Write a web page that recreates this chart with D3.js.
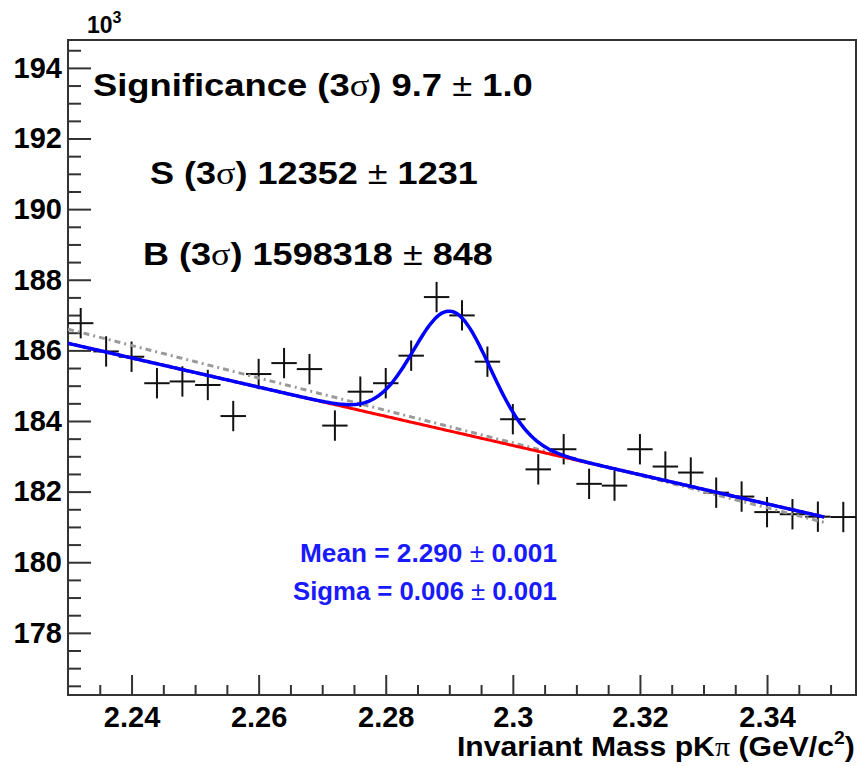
<!DOCTYPE html>
<html>
<head>
<meta charset="utf-8">
<script src="https://cdn.jsdelivr.net/npm/d3@7"></script>
<style>
  html, body { margin: 0; padding: 0; background: #fff; }
  svg { display: block; }
  text { font-family: "Liberation Sans", Arial, Helvetica, sans-serif; }
</style>
</head>
<body>
<svg id="chart" width="858" height="766"></svg>
<script>
// ---------------- data (counts in units of 10^3) ----------------
const binCenters = [2.232, 2.236, 2.240, 2.244, 2.248, 2.252, 2.256, 2.260, 2.264, 2.268,
                    2.272, 2.276, 2.280, 2.284, 2.288, 2.292, 2.296, 2.300, 2.304, 2.308,
                    2.312, 2.316, 2.320, 2.324, 2.328, 2.332, 2.336, 2.340, 2.344, 2.348, 2.352];
const counts = [186.77, 185.97, 185.82, 185.07, 185.12, 185.02, 184.14, 185.33, 185.64, 185.47,
                183.87, 184.83, 185.07, 185.85, 187.51, 186.99, 185.68, 184.05, 182.63, 183.20,
                182.22, 182.17, 183.20, 182.71, 182.54, 181.97, 181.86, 181.42, 181.36, 181.29, 181.28];
const countErrors = [0.43, 0.43, 0.43, 0.43, 0.43, 0.43, 0.43, 0.43, 0.43, 0.43,
                     0.43, 0.43, 0.43, 0.43, 0.43, 0.43, 0.43, 0.43, 0.43, 0.43,
                     0.43, 0.43, 0.43, 0.43, 0.43, 0.43, 0.43, 0.43, 0.43, 0.43, 0.43];
const binHalfWidth = 0.002;

// fit results
const fitRange = [2.230, 2.349];
const bkgPar = [186.20, -41.34];          // p0 + p1*(m - 2.23)  (red, background)
const gausPar = [3.40, 2.2904, 0.0060];   // amplitude, mean, sigma (blue = bkg + gaus)
const sidebandPar = [186.60, -45.98];     // grey dash-dot: p0 + p1*(m - 2.23)
const refMass = 2.23;

// axes
const xDomain = [2.230, 2.354];
const yDomain = [176.24, 194.79];
const xMajorTicks = [2.24, 2.26, 2.28, 2.30, 2.32, 2.34];
const xMinorTicks = [2.235, 2.245, 2.25, 2.255, 2.265, 2.27, 2.275, 2.285, 2.29, 2.295,
                     2.305, 2.31, 2.315, 2.325, 2.33, 2.335, 2.345, 2.35];
const yMajorTicks = [178, 180, 182, 184, 186, 188, 190, 192, 194];
const yMinorTicks = [176.5, 177, 177.5, 178.5, 179, 179.5, 180.5, 181, 181.5, 182.5, 183, 183.5,
                     184.5, 185, 185.5, 186.5, 187, 187.5, 188.5, 189, 189.5, 190.5, 191, 191.5,
                     192.5, 193, 193.5, 194.5];

const xTitle = ["Invariant Mass pK", "π", " (GeV/c", "2", ")"];
const statLines = [
  { label: "Significance", val: "9.7", err: "1.0" },
  { label: "S", val: "12352", err: "1231" },
  { label: "B", val: "1598318", err: "848" }
];
const fitLines = [
  { label: "Mean", val: "2.290", err: "0.001" },
  { label: "Sigma", val: "0.006", err: "0.001" }
];

// ---------------- layout ----------------
const svg = d3.select("#chart");
const L = 68, R = 856, T = 40, B = 695;
const x = d3.scaleLinear().domain(xDomain).range([L, R]);
const y = d3.scaleLinear().domain(yDomain).range([B, T]);

const FRAME = "#333";
const tickFont = 29;

// stretch a text horizontally so it spans [x0, x0+w]
function fitWidth(t, x0, w) {
  const cur = t.node().getComputedTextLength();
  const s = w / cur;
  t.attr("x", x0).attr("text-anchor", "start")
   .attr("transform", `translate(${x0},0) scale(${s},1) translate(${-x0},0)`);
}

// axes
const gx = svg.append("g").attr("transform", `translate(0,${B})`);
gx.call(d3.axisBottom(x).tickValues(xMajorTicks).tickSize(-20).tickPadding(11)
        .tickFormat(d => String(+d.toFixed(2))));
const gxm = svg.append("g").attr("transform", `translate(0,${B})`);
gxm.call(d3.axisBottom(x).tickValues(xMinorTicks).tickSize(-10).tickFormat(""));

const gy = svg.append("g").attr("transform", `translate(${L},0)`);
gy.call(d3.axisLeft(y).tickValues(yMajorTicks).tickSize(-23).tickPadding(6).tickFormat(d3.format("d")));
const gym = svg.append("g").attr("transform", `translate(${L},0)`);
gym.call(d3.axisLeft(y).tickValues(yMinorTicks).tickSize(-13).tickFormat(""));

[gx, gxm, gy, gym].forEach(g => {
  g.select(".domain").remove();
  g.selectAll(".tick line").attr("stroke", FRAME).attr("stroke-width", 2);
  g.selectAll(".tick text").attr("fill", "#000").attr("font-size", tickFont)
    .attr("font-weight", "bold")
    .style("font-family", "'Liberation Sans', Arial, sans-serif");
});

// frame
svg.append("rect").attr("x", L).attr("y", T).attr("width", R - L).attr("height", B - T)
  .attr("fill", "none").attr("stroke", FRAME).attr("stroke-width", 2);

// 10^3 label
const expo = svg.append("text").attr("x", 87).attr("y", 33).attr("font-size", 23).attr("font-weight", "bold");
expo.append("tspan").text("10");
expo.append("tspan").attr("font-size", 16).attr("dy", -10).text("3");

// x title
const xt = svg.append("text").attr("x", 457).attr("y", 756)
  .attr("font-size", 28).attr("font-weight", "bold");
xt.append("tspan").text(xTitle[0]);
xt.append("tspan").attr("font-family", "'Liberation Serif', serif").attr("font-weight", "normal").text(xTitle[1]);
xt.append("tspan").text(xTitle[2]);
xt.append("tspan").attr("font-size", 18).attr("dy", -12).text(xTitle[3]);
xt.append("tspan").attr("dy", 12).text(xTitle[4]);
fitWidth(xt, 457, 398);

// ---------------- data points ----------------
const pts = svg.append("g").attr("stroke", "#111").attr("stroke-width", 2);
binCenters.forEach((m, i) => {
  pts.append("line").attr("x1", x(m - binHalfWidth)).attr("x2", x(m + binHalfWidth))
    .attr("y1", y(counts[i])).attr("y2", y(counts[i]));
  pts.append("line").attr("x1", x(m)).attr("x2", x(m))
    .attr("y1", y(counts[i] - countErrors[i])).attr("y2", y(counts[i] + countErrors[i]));
});

// ---------------- fit curves ----------------
const nSamp = 400;
const grid = d3.range(nSamp + 1).map(k => fitRange[0] + (fitRange[1] - fitRange[0]) * k / nSamp);
const bkg = m => bkgPar[0] + bkgPar[1] * (m - refMass);
const side = m => sidebandPar[0] + sidebandPar[1] * (m - refMass);
const total = m => bkg(m) + gausPar[0] * Math.exp(-0.5 * Math.pow((m - gausPar[1]) / gausPar[2], 2));
const line = f => d3.line().x(m => x(m)).y(m => y(f(m)))(grid);

svg.append("path").attr("d", line(side)).attr("fill", "none").attr("stroke", "#9a9a9a")
  .attr("stroke-width", 3).attr("stroke-dasharray", "6,4,2,4");
svg.append("path").attr("d", line(bkg)).attr("fill", "none").attr("stroke", "#ff0000").attr("stroke-width", 3);
svg.append("path").attr("d", line(total)).attr("fill", "none").attr("stroke", "#0000ff").attr("stroke-width", 3.5);

// ---------------- text boxes ----------------
const statY = [96, 184, 265];
const statX0 = [93, 150, 143];
const statW = [440, 328, 350];
statLines.forEach((s, i) => {
  const t = svg.append("text").attr("y", statY[i])
    .attr("font-size", 31).attr("font-weight", "bold").attr("fill", "#000");
  t.append("tspan").text(s.label + " (3");
  t.append("tspan").attr("font-family", "'Liberation Serif', serif").attr("font-weight", "normal").text("σ");
  t.append("tspan").text(") " + s.val + " ");
  t.append("tspan").attr("font-weight", "normal").text("±");
  t.append("tspan").text(" " + s.err);
  fitWidth(t, statX0[i], statW[i]);
});

const fitY = [562, 600];
const fitX0 = [300, 293];
const fitW = [257, 264];
fitLines.forEach((s, i) => {
  const t = svg.append("text").attr("y", fitY[i])
    .attr("font-size", 25).attr("font-weight", "bold").attr("fill", "#1a1aff");
  t.append("tspan").text(s.label + " = " + s.val + " ");
  t.append("tspan").attr("font-weight", "normal").text("±");
  t.append("tspan").text(" " + s.err);
  fitWidth(t, fitX0[i], fitW[i]);
});
</script>
</body>
</html>
